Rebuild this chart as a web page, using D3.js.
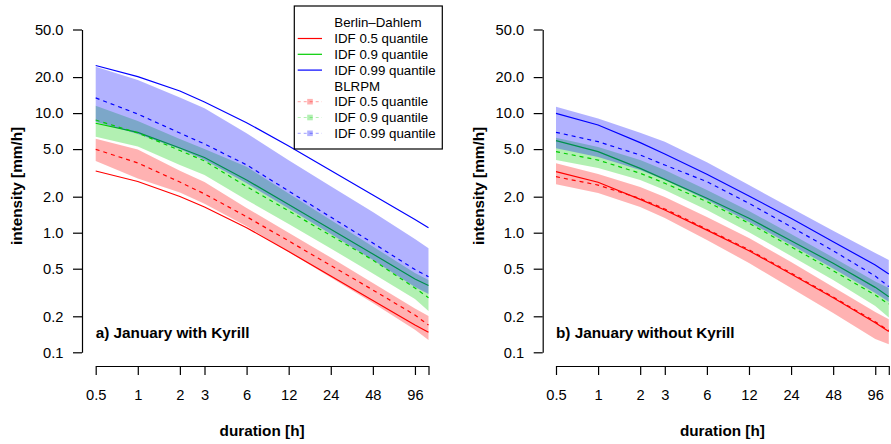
<!DOCTYPE html>
<html><head><meta charset="utf-8">
<script src="https://cdn.jsdelivr.net/npm/d3@7"></script>
<style>
html,body{margin:0;padding:0;background:#fff;}
text{font-family:"Liberation Sans",Arial,Helvetica,sans-serif;}
</style></head>
<body><svg id="chart" width="891" height="444"></svg>
<script>
// ---------- data ----------
const durations = [0.5, 1, 2, 3, 6, 12, 24, 48, 96, 120];
const xTicks = [0.5, 1, 2, 3, 6, 12, 24, 48, 96, 120];
const xTickLabels = ["0.5", "1", "2", "3", "6", "12", "24", "48", "96", ""];
const yTicks = [0.1, 0.2, 0.5, 1, 2, 5, 10, 20, 50];
const yTickLabels = ["0.1", "0.2", "0.5", "1.0", "2.0", "5.0", "10.0", "20.0", "50.0"];
const quantiles = ["IDF 0.5 quantile", "IDF 0.9 quantile", "IDF 0.99 quantile"];
const legendHeaders = ["Berlin\u2013Dahlem", "BLRPM"];
const panelTitles = ["a) January with Kyrill", "b) January without Kyrill"];

// panel a: January with Kyrill
const a_idf05  = [3.28, 2.68, 2.01, 1.64, 1.10, 0.696, 0.434, 0.271, 0.169, 0.147];
const a_idf09  = [8.22, 6.89, 5.11, 4.25, 2.76, 1.72, 1.07, 0.664, 0.410, 0.362];
const a_idf099 = [25.0, 20.2, 15.3, 12.4, 8.31, 5.31, 3.31, 2.07, 1.29, 1.10];
const a_blrpm05_med  = [4.98, 3.83, 2.65, 2.11, 1.36, 0.853, 0.532, 0.332, 0.205, 0.169];
const a_blrpm05_lo   = [3.98, 2.84, 2.17, 1.75, 1.13, 0.690, 0.422, 0.258, 0.154, 0.127];
const a_blrpm05_hi   = [6.10, 4.96, 3.30, 2.65, 1.61, 1.00, 0.620, 0.380, 0.232, 0.201];
const a_blrpm09_med  = [8.75, 6.82, 4.87, 3.98, 2.43, 1.52, 0.948, 0.591, 0.345, 0.286];
const a_blrpm09_lo   = [6.35, 5.26, 3.68, 3.04, 1.88, 1.18, 0.738, 0.456, 0.279, 0.221];
const a_blrpm09_hi   = [11.5, 8.59, 6.07, 5.01, 3.56, 2.13, 1.28, 0.767, 0.460, 0.402];
const a_blrpm099_med = [13.4, 9.82, 6.81, 5.52, 3.69, 2.23, 1.35, 0.820, 0.492, 0.429];
const a_blrpm099_lo  = [8.48, 6.69, 5.01, 4.05, 2.59, 1.59, 0.975, 0.591, 0.352, 0.307];
const a_blrpm099_hi  = [24.4, 18.9, 13.5, 11.0, 6.78, 4.03, 2.45, 1.49, 0.887, 0.741];

// panel b: January without Kyrill
const b_idf05  = [3.24, 2.64, 1.90, 1.55, 1.05, 0.707, 0.452, 0.286, 0.177, 0.149];
const b_idf09  = [5.88, 4.76, 3.45, 2.79, 1.94, 1.32, 0.857, 0.555, 0.349, 0.292];
const b_idf099 = [9.96, 7.95, 5.66, 4.55, 3.08, 2.03, 1.32, 0.841, 0.537, 0.452];
const b_blrpm05_med  = [2.94, 2.50, 1.93, 1.58, 1.07, 0.72, 0.46, 0.29, 0.18, 0.152];
const b_blrpm05_lo   = [2.54, 2.15, 1.64, 1.33, 0.869, 0.558, 0.345, 0.213, 0.129, 0.117];
const b_blrpm05_hi   = [3.80, 3.10, 2.41, 1.99, 1.35, 0.903, 0.569, 0.352, 0.217, 0.189];
const b_blrpm09_med  = [4.76, 4.05, 3.14, 2.59, 1.82, 1.20, 0.764, 0.481, 0.301, 0.253];
const b_blrpm09_lo   = [4.05, 3.47, 2.76, 2.28, 1.55, 1.01, 0.639, 0.402, 0.244, 0.195];
const b_blrpm09_hi   = [6.22, 5.21, 4.05, 3.34, 2.28, 1.52, 0.975, 0.621, 0.391, 0.345];
const b_blrpm099_med = [6.91, 5.77, 4.46, 3.68, 2.67, 1.76, 1.12, 0.707, 0.434, 0.354];
const b_blrpm099_lo  = [5.08, 4.30, 3.34, 2.76, 1.88, 1.23, 0.789, 0.502, 0.313, 0.265];
const b_blrpm099_hi  = [11.3, 9.02, 6.86, 5.77, 3.89, 2.50, 1.61, 1.04, 0.678, 0.59];

// ---------- styles ----------
const lineCols = ["#FF0000", "#00CD00", "#0000FF"];
const bandCols = ["rgba(255,0,0,0.3)", "rgba(0,205,0,0.3)", "rgba(0,0,255,0.3)"];

const svg = d3.select("#chart");
svg.append("rect").attr("width", 891).attr("height", 444).attr("fill", "#fff");

const yScale = d3.scaleLog().domain([0.1, 50]).range([352.3, 29.5]);

function drawPanel(cfg) {
  const x = d3.scaleLog().domain([0.5, 120]).range(cfg.xRange);
  const g = svg.append("g");

  const line = d3.line().x(d => x(d[0])).y(d => yScale(d[1]));
  const area = d3.area().x(d => x(d[0])).y0(d => yScale(d[1])).y1(d => yScale(d[2]));

  // station IDF lines (drawn first, under the bands)
  cfg.idf.forEach((vals, i) => {
    g.append("path").datum(durations.map((d, k) => [d, vals[k]]))
      .attr("d", line).attr("fill", "none")
      .attr("stroke", lineCols[i]).attr("stroke-width", 1.2);
  });
  // BLRPM bands
  cfg.bands.forEach((b, i) => {
    g.append("path").datum(durations.map((d, k) => [d, b.lo[k], b.hi[k]]))
      .attr("d", area).attr("fill", bandCols[i]).attr("stroke", "none");
  });
  // BLRPM medians (dashed)
  cfg.bands.forEach((b, i) => {
    g.append("path").datum(durations.map((d, k) => [d, b.med[k]]))
      .attr("d", line).attr("fill", "none")
      .attr("stroke", lineCols[i]).attr("stroke-width", 1.2)
      .attr("stroke-dasharray", "4,4");
  });

  // x axis
  const xAxis = d3.axisBottom(x).tickValues(xTicks)
    .tickFormat((d, i) => xTickLabels[i]).tickSize(9).tickSizeOuter(0).tickPadding(14.5);
  const gx = g.append("g").attr("transform", "translate(0,366)").call(xAxis);
  // y axis
  const yAxis = d3.axisLeft(yScale).tickValues(yTicks)
    .tickFormat((d, i) => yTickLabels[i]).tickSize(9).tickSizeOuter(0).tickPadding(9.5);
  const gy = g.append("g").attr("transform", `translate(${cfg.yAxisX},0)`).call(yAxis);
  [gx, gy].forEach(ax => {
    ax.select(".domain").attr("stroke", "#000").attr("stroke-width", 1.2);
    ax.selectAll(".tick line").attr("stroke", "#000").attr("stroke-width", 1.2);
    ax.selectAll(".tick text").attr("fill", "#000")
      .style("font-family", '"Liberation Sans",Arial,sans-serif').style("font-size", "14.7px");
  });

  // axis titles
  g.append("text").attr("x", (cfg.xRange[0] + cfg.xRange[1]) / 2).attr("y", 436)
    .attr("text-anchor", "middle").style("font-weight", "bold").style("font-size", "15.3px")
    .text("duration [h]");
  g.append("text").attr("transform", `translate(${cfg.yLabX},186) rotate(-90)`)
    .attr("text-anchor", "middle").style("font-weight", "bold").style("font-size", "15.3px")
    .text("intensity [mm/h]");
  // panel title
  g.append("text").attr("x", cfg.xRange[0]).attr("y", 337.5)
    .style("font-weight", "bold").style("font-size", "15.3px").text(cfg.title);
}

drawPanel({
  xRange: [95.7, 428.5], yAxisX: 82, yLabX: 22.3, title: panelTitles[0],
  idf: [a_idf05, a_idf09, a_idf099],
  bands: [
    {med: a_blrpm05_med, lo: a_blrpm05_lo, hi: a_blrpm05_hi},
    {med: a_blrpm09_med, lo: a_blrpm09_lo, hi: a_blrpm09_hi},
    {med: a_blrpm099_med, lo: a_blrpm099_lo, hi: a_blrpm099_hi}
  ]
});
drawPanel({
  xRange: [556, 888.8], yAxisX: 542.7, yLabX: 483.5, title: panelTitles[1],
  idf: [b_idf05, b_idf09, b_idf099],
  bands: [
    {med: b_blrpm05_med, lo: b_blrpm05_lo, hi: b_blrpm05_hi},
    {med: b_blrpm09_med, lo: b_blrpm09_lo, hi: b_blrpm09_hi},
    {med: b_blrpm099_med, lo: b_blrpm099_lo, hi: b_blrpm099_hi}
  ]
});

// ---------- legend ----------
const lg = svg.append("g");
lg.append("rect").attr("x", 294.3).attr("y", 6).attr("width", 148).attr("height", 143)
  .attr("fill", "#fff").attr("stroke", "#000").attr("stroke-width", 1.2);
const rowY = i => 22.7 + i * 15.8;
const entries = [
  {label: legendHeaders[0], type: "none"},
  {label: quantiles[0], type: "solid", c: 0},
  {label: quantiles[1], type: "solid", c: 1},
  {label: quantiles[2], type: "solid", c: 2},
  {label: legendHeaders[1], type: "none"},
  {label: quantiles[0], type: "band", c: 0},
  {label: quantiles[1], type: "band", c: 1},
  {label: quantiles[2], type: "band", c: 2}
];
entries.forEach((e, i) => {
  const y = rowY(i);
  if (e.type === "solid") {
    lg.append("line").attr("x1", 297.7).attr("x2", 322).attr("y1", y).attr("y2", y)
      .attr("stroke", lineCols[e.c]).attr("stroke-width", 1.2);
  } else if (e.type === "band") {
    lg.append("line").attr("x1", 297.7).attr("x2", 322).attr("y1", y).attr("y2", y)
      .attr("stroke", bandCols[e.c]).attr("stroke-width", 1.2).attr("stroke-dasharray", "3,3");
    lg.append("rect").attr("x", 307.2).attr("y", y - 2.8).attr("width", 5.6).attr("height", 5.6)
      .attr("fill", bandCols[e.c]);
  }
  lg.append("text").attr("x", 334.3).attr("y", y).attr("dy", "0.35em")
    .style("font-size", "13.3px").attr("fill", "#000").text(e.label);
});
</script></body></html>
